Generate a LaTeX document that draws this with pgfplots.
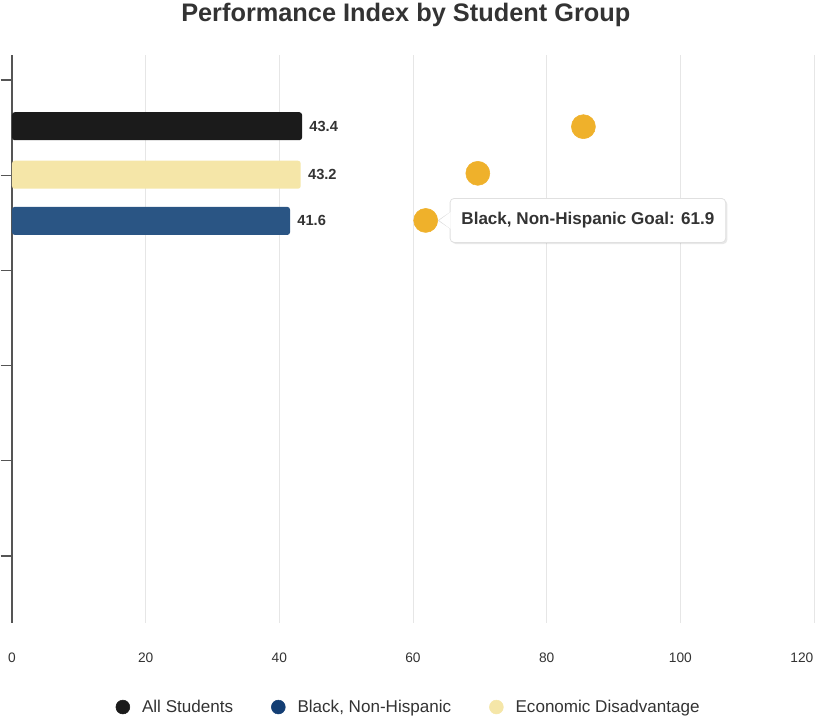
\documentclass[border=0pt]{standalone}
\usepackage{fontspec}
\setmainfont{Liberation Sans}
\usepackage{pgfplots}
\pgfplotsset{compat=1.18}
\usetikzlibrary{shadows}
\definecolor{ctext}{HTML}{333333}
\definecolor{cgrid}{HTML}{E6E6E6}
\definecolor{caxis}{HTML}{555555}
\definecolor{cblack}{HTML}{1B1B1B}
\definecolor{cyellow}{HTML}{F5E6A8}
\definecolor{cblue}{HTML}{2A5584}
\definecolor{cbluelegend}{HTML}{133E74}
\definecolor{cgoal}{HTML}{EFB12B}

\begin{document}
\begin{tikzpicture}
\begin{axis}[
  width=601.5pt, height=426pt, scale only axis,
  xmin=0, xmax=120, ymin=-5.704, ymax=0.263,
  axis x line*=bottom, axis y line*=left,
  x axis line style={draw=none},
  y axis line style={draw=caxis, line width=0.9pt, -},
  xtick={0,20,...,100}, xtick style={draw=none},
  extra x ticks={120},
  extra x tick style={xticklabel style={anchor=north east, xshift=3pt}},
  xmajorgrids, grid style={cgrid, line width=0.75pt},
  ytick={-5,...,0}, yticklabels={}, ytick style={draw=caxis, line width=0.9pt},
  ytick align=outside, major tick length=8.5pt,
  /pgf/number format/assume math mode=true,
  xticklabel style={font=\fontsize{10.3}{12}\selectfont, text=ctext, yshift=-19pt},
  title={Performance Index by Student Group},
  title style={font=\bfseries\fontsize{19}{22}\selectfont, text=ctext,
    at={(0.491,1)}, anchor=center, yshift=24pt},
  legend columns=-1,
  legend style={draw=none, fill=none, at={(0.495,-0.148)}, anchor=center,
    font=\fontsize{12.8}{14}\selectfont, text=ctext,
    /tikz/every odd column/.append style={column sep=7pt},
    /tikz/every even column/.append style={column sep=26.5pt}},
  clip=false,
]

% bars
\addplot[xbar, bar shift=0pt, bar width=21pt, fill=cblack, draw=none, rounded corners=2pt,
  point meta=x, nodes near coords={\pgfmathprintnumber[fixed,precision=1,fixed zerofill]{\pgfplotspointmeta}},
  nodes near coords style={font=\bfseries\fontsize{11}{12}\selectfont, text=ctext, xshift=2pt},
  forget plot]
  coordinates {(43.4,-0.485)};

\addplot[xbar, bar shift=0pt, bar width=21pt, fill=cyellow, draw=none, rounded corners=2pt,
  point meta=x, nodes near coords={\pgfmathprintnumber[fixed,precision=1,fixed zerofill]{\pgfplotspointmeta}},
  nodes near coords style={font=\bfseries\fontsize{11}{12}\selectfont, text=ctext, xshift=2pt},
  forget plot]
  coordinates {(43.2,-0.995)};

\addplot[xbar, bar shift=0pt, bar width=21pt, fill=cblue, draw=none, rounded corners=2pt,
  point meta=x, nodes near coords={\pgfmathprintnumber[fixed,precision=1,fixed zerofill]{\pgfplotspointmeta}},
  nodes near coords style={font=\bfseries\fontsize{11}{12}\selectfont, text=ctext, xshift=2pt},
  forget plot]
  coordinates {(41.6,-1.48)};

% goals
\addplot[only marks, mark=*, color=cgoal, mark size=9pt, forget plot]
  coordinates {(85.5,-0.49) (69.7,-0.98) (61.9,-1.475)};

% legend
\addlegendimage{legend image code/.code={\fill[cblack] (0,0) circle (5.2pt);}}
\addlegendentry{All Students}
\addlegendimage{legend image code/.code={\fill[cbluelegend] (0,0) circle (5.2pt);}}
\addlegendentry{Black, Non-Hispanic}
\addlegendimage{legend image code/.code={\fill[cyellow] (0,0) circle (5.2pt);}}
\addlegendentry{Economic Disadvantage}

% tooltip
\node[draw=black!12, fill=white, rounded corners=3pt, line width=0.6pt,
  drop shadow={opacity=0.18, shadow xshift=1.2pt, shadow yshift=-1.2pt},
  anchor=west, minimum height=33pt, inner xsep=8.5pt,
  font=\bfseries\fontsize{12.8}{14}\selectfont, text=ctext]
  at ([xshift=18pt]axis cs:61.9,-1.475) {Black, Non-Hispanic Goal: 61.9};
\draw[black!12, fill=white, line width=0.6pt] ([xshift=18.4pt,yshift=6pt]axis cs:61.9,-1.475)
  -- ([xshift=9.5pt]axis cs:61.9,-1.475) -- ([xshift=18.4pt,yshift=-6pt]axis cs:61.9,-1.475);
\fill[white] ([xshift=18.6pt,yshift=6.3pt]axis cs:61.9,-1.475)
  -- ([xshift=10.4pt]axis cs:61.9,-1.475) -- ([xshift=18.6pt,yshift=-6.3pt]axis cs:61.9,-1.475) -- cycle;
\end{axis}
\pgfresetboundingbox
\path[use as bounding box] ([shift={(-9pt,-71.25pt)}]current axis.south west)
  rectangle ([shift={(0.75pt,41.25pt)}]current axis.north east);
\end{tikzpicture}
\end{document}
